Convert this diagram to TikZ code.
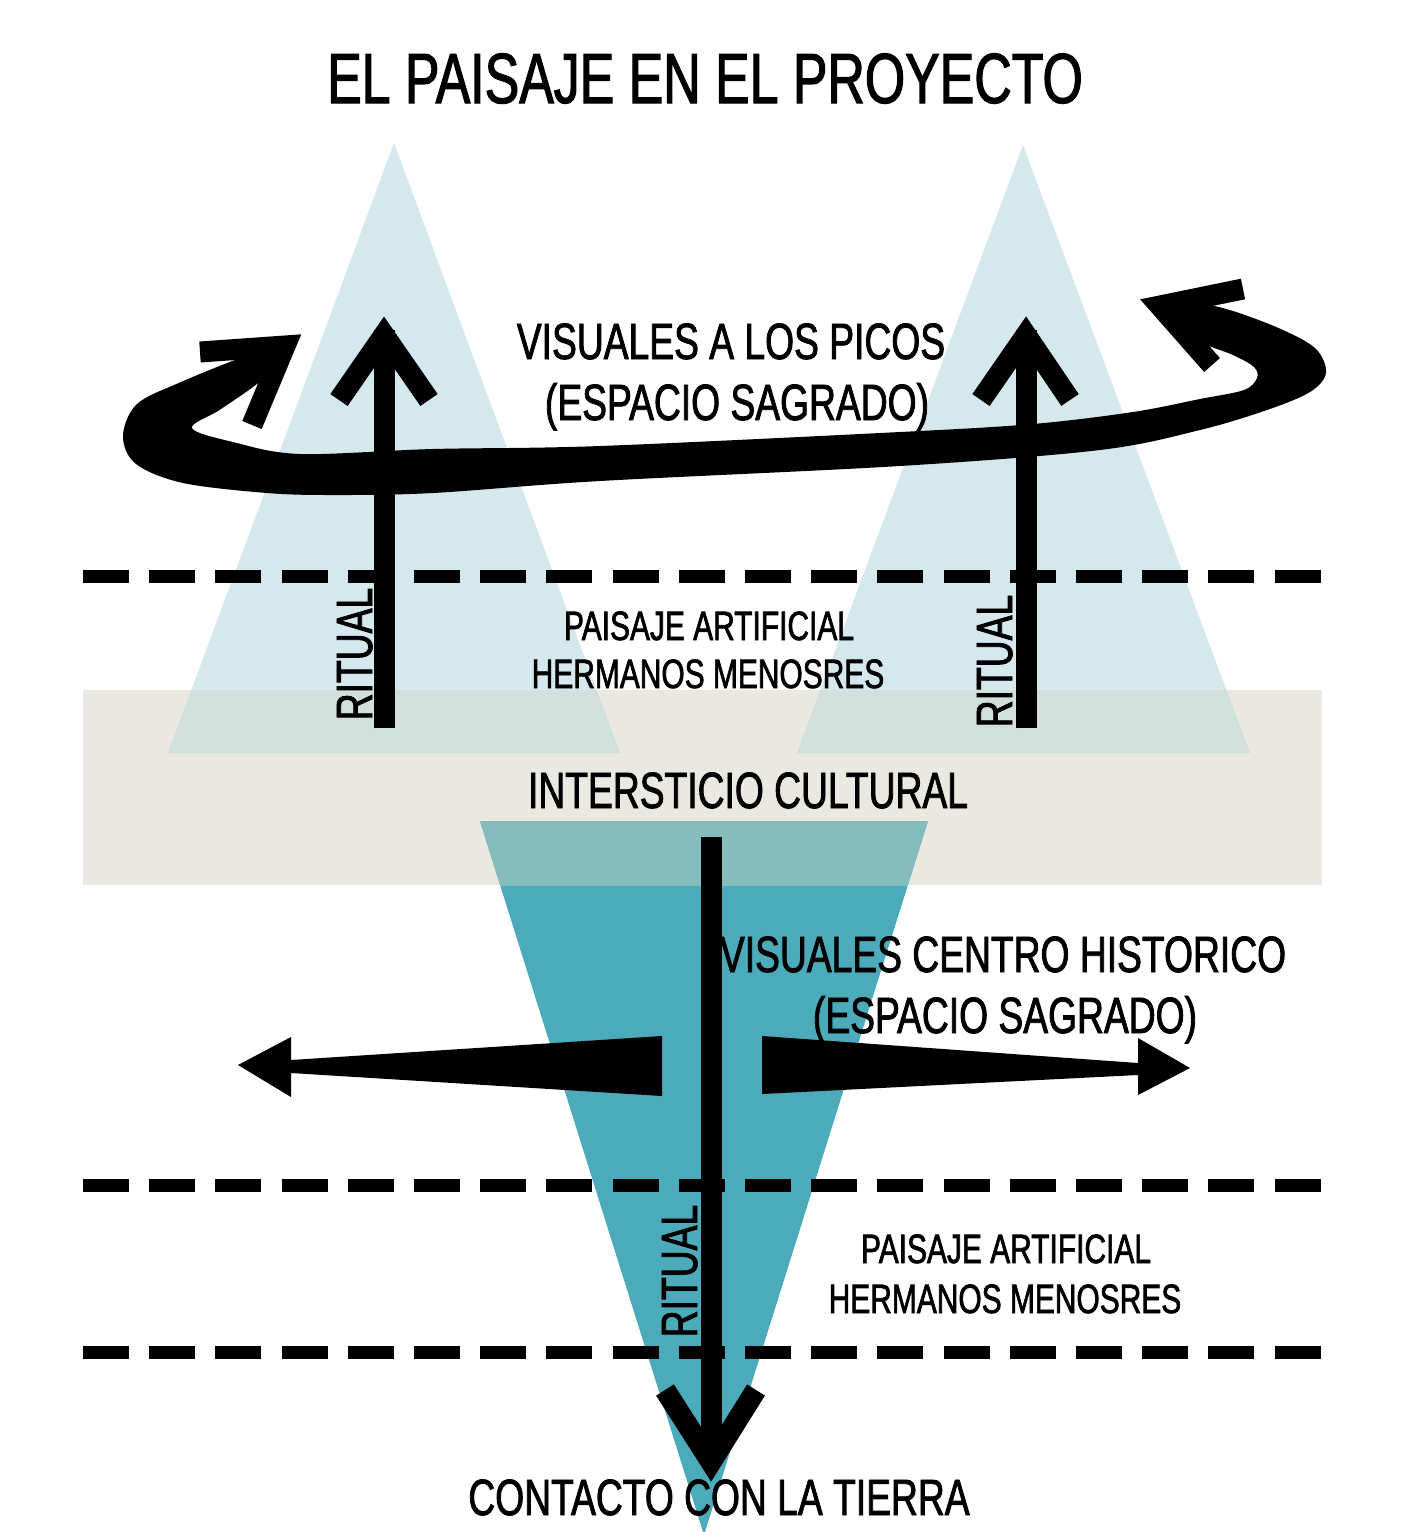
\documentclass[tikz,border=0pt]{standalone}
\usepackage{fontspec}
\newfontfamily\cf[FakeStretch=0.73,FakeBold=1.6]{Liberation Sans}
\definecolor{tri}{RGB}{213,232,238}
\definecolor{triband}{RGB}{210,224,220}
\definecolor{bandc}{RGB}{234,233,225}
\definecolor{tealdk}{RGB}{75,171,187}
\definecolor{tealband}{RGB}{133,188,188}
\tikzset{
  txt/.style={inner sep=0pt, anchor=base, text=black},
  bigtxt/.style={txt, font=\cf\fontsize{51}{60}\selectfont},
  smalltxt/.style={txt, font=\cf\fontsize{41}{48}\selectfont},
  dashline/.style={line width=13pt, dash pattern=on 46pt off 20.2pt},
  shaft/.style={line width=21pt},
  chevron/.style={line width=21pt, line join=miter},
}
\begin{document}
\begin{tikzpicture}[x=1pt,y=-1pt]
\useasboundingbox (0,0) rectangle (1403,1532);
% band
\fill[bandc] (83,690) rectangle (1322,885);
% upper triangles
\fill[tri] (394,143) -- (168,753) -- (620,753) -- cycle;
\fill[tri] (1023,145) -- (797,753) -- (1250,753) -- cycle;
% inverted triangle
\fill[tealdk] (480,821) -- (928,821) -- (704,1535) -- cycle;
\begin{scope}
  \clip (83,690) rectangle (1322,885);
  \fill[triband] (394,143) -- (168,753) -- (620,753) -- cycle;
  \fill[triband] (1023,145) -- (797,753) -- (1250,753) -- cycle;
  \fill[tealband] (480,821) -- (928,821) -- (704,1535) -- cycle;
\end{scope}
% dashed lines
\coordinate (d1a) at (83,576);  \coordinate (d1b) at (1322,576);
\coordinate (d2a) at (83,1185); \coordinate (d2b) at (1322,1185);
\coordinate (d3a) at (83,1352); \coordinate (d3b) at (1322,1352);
\draw[dashline] (d1a) -- (d1b);
\draw[dashline] (d2a) -- (d2b);
\draw[dashline] (d3a) -- (d3b);
% swoosh
\fill[black] plot[smooth,tension=0.55] coordinates {(296,340) (243,357) (181,382) (137,404) (123,436) (136,464) (183,483) (267,493) (333,495) (433,493) (600,481) (900,466) (1100,450) (1200,430) (1267,410) (1310,392) (1326,373) (1316,349) (1283,330) (1233,311) (1193,302) (1150,300)}
  -- plot[smooth,tension=0.55] coordinates {(1150,300) (1193,338) (1233,355) (1254,367) (1257,378) (1244,390) (1200,399) (1133,412) (1033,424) (900,432) (600,446) (433,449) (300,454) (233,442) (192,428) (221,409) (264,378) (296,340)} -- cycle;
\draw[chevron] (200,352) -- (285,346) -- (252,425);
\draw[chevron] (1243,289) -- (1160,306) -- (1212,365);
% vertical arrows
\coordinate (la0) at (384,728); \coordinate (la1) at (384,330);
\draw[shaft] (la0) -- (la1);
\draw[chevron] (339,400) -- (384,335) -- (429,400);
\coordinate (ra0) at (1026,728); \coordinate (ra1) at (1026,330);
\draw[shaft] (ra0) -- (ra1);
\draw[chevron] (981,400) -- (1026,335) -- (1070,400);
\coordinate (ba0) at (711,837); \coordinate (ba1) at (711,1465);
\draw[shaft] (ba0) -- (ba1);
\draw[chevron] (665,1390) -- (711,1462) -- (756,1390);
% horizontal arrows
\fill[black] (238,1065) -- (291,1037) -- (291,1060) -- (662,1036) -- (662,1096) -- (291,1073) -- (291,1097) -- cycle;
\fill[black] (762,1036) -- (1138,1063) -- (1138,1038) -- (1190,1068) -- (1138,1095) -- (1138,1075) -- (762,1094) -- cycle;
% texts
\node[txt, font=\cf\fontsize{71}{80}\selectfont] (title) at (705,103) {EL PAISAJE EN EL PROYECTO};
\node[bigtxt] (vis1) at (731,359) {VISUALES A LOS PICOS};
\node[bigtxt] (esp1) at (737,420) {(ESPACIO SAGRADO)};
\node[smalltxt] (pa1) at (709,640) {PAISAJE ARTIFICIAL};
\node[smalltxt] (he1) at (708,688) {HERMANOS MENOSRES};
\node[bigtxt] (inter) at (748,808) {INTERSTICIO CULTURAL};
\node[bigtxt] (vis2) at (1003,972) {VISUALES CENTRO HISTORICO};
\node[bigtxt] (esp2) at (1005,1033) {(ESPACIO SAGRADO)};
\node[smalltxt] (pa2) at (1006,1263) {PAISAJE ARTIFICIAL};
\node[smalltxt] (he2) at (1005,1313) {HERMANOS MENOSRES};
\node[bigtxt] (cont) at (719,1515) {CONTACTO CON LA TIERRA};
\node[bigtxt, rotate=90] (rit1) at (372,654) {RITUAL};
\node[bigtxt, rotate=90] (rit2) at (1012,661) {RITUAL};
\node[bigtxt, rotate=90] (rit3) at (697,1271) {RITUAL};
\end{tikzpicture}
\end{document}
